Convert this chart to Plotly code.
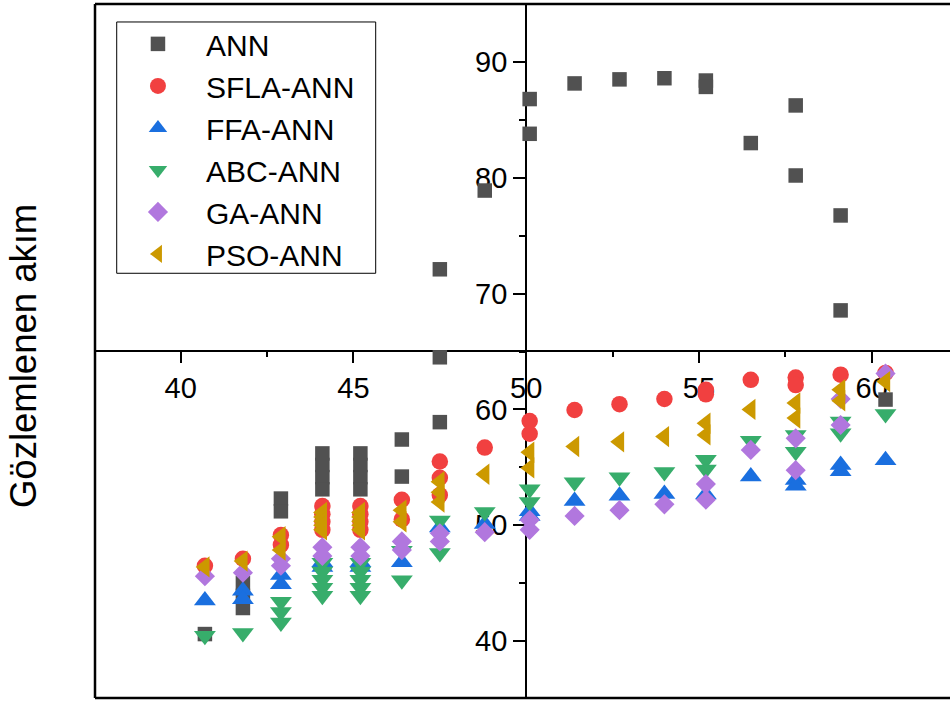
import plotly.graph_objects as go

# ---------------- data ----------------
ann_x = [40.7, 41.8, 41.8, 41.8, 42.9, 42.9,
         44.1, 44.1, 44.1, 44.1, 45.2, 45.2, 45.2, 45.2,
         46.4, 46.4, 47.5, 47.5, 47.5, 48.8, 50.1, 50.1,
         51.4, 52.7, 54.0, 55.2, 55.2, 56.5, 57.8, 57.8,
         59.1, 59.1, 60.4]
ann_y = [40.6, 45.0, 43.9, 42.85, 52.3, 51.2,
         56.2, 55.2, 54.15, 53.1, 56.2, 55.2, 54.15, 53.1,
         57.4, 54.2, 72.1, 64.5, 58.9, 78.9, 86.8, 83.8,
         88.15, 88.5, 88.6, 88.4, 87.85, 83.0, 86.25, 80.2,
         76.75, 68.55, 60.85]

sfla_x = [40.7, 41.8, 42.9, 42.9,
          44.1, 44.1, 44.1, 44.1, 45.2, 45.2, 45.2, 45.2,
          46.4, 46.4, 47.5, 47.5, 47.5, 48.8, 50.1, 50.1,
          51.4, 52.7, 54.0, 55.2, 55.2, 56.5, 57.8, 57.8, 59.1, 60.4]
sfla_y = [46.5, 47.1, 49.15, 48.3,
          51.65, 50.95, 50.3, 49.6, 51.65, 50.95, 50.3, 49.6,
          52.2, 50.5, 55.5, 54.1, 52.6, 56.7, 59.0, 57.9,
          59.95, 60.45, 60.9, 61.7, 61.3, 62.55, 62.75, 62.1, 63.0, 63.15]

ffa_x = [40.7, 41.8, 41.8, 42.9, 42.9,
         44.1, 44.1, 45.2, 45.2, 46.4, 47.5, 48.8, 50.1, 50.1,
         51.4, 52.7, 54.0, 55.2, 56.5, 57.8, 57.8, 59.1, 59.1, 60.4]
ffa_y = [43.5, 44.35, 43.6, 45.7, 44.9,
         46.8, 46.4, 46.8, 46.4, 46.8, 49.8, 50.1, 51.2, 50.8,
         52.1, 52.55, 52.7, 52.65, 54.2, 53.9, 53.4, 55.2, 54.65, 55.6]

abc_x = [40.7, 41.8, 42.9, 42.9, 42.9,
         44.1, 44.1, 44.1, 44.1, 44.1, 45.2, 45.2, 45.2, 45.2, 45.2,
         46.4, 46.4, 47.5, 47.5, 48.8, 50.1, 50.1,
         51.4, 52.7, 54.0, 55.2, 55.2, 56.5, 57.8, 57.8, 59.1, 59.1, 60.4]
abc_y = [40.45, 40.7, 43.4, 42.5, 41.6,
         46.75, 46.0, 45.3, 44.6, 43.9, 46.75, 46.0, 45.3, 44.6, 43.9,
         47.8, 45.25, 50.4, 47.6, 51.15, 53.1, 52.0,
         53.7, 54.15, 54.6, 55.65, 54.8, 57.3, 57.8, 56.35, 58.95, 57.95, 59.6]

ga_x = [40.7, 41.8, 42.9, 42.9,
        44.1, 44.1, 45.2, 45.2, 46.4, 46.4, 47.5, 47.5, 48.8, 50.1, 50.1,
        51.4, 52.7, 54.0, 55.2, 55.2, 56.5, 57.8, 57.8, 59.1, 59.1, 60.4]
ga_y = [45.6, 45.9, 47.1, 46.5,
        48.1, 47.35, 48.1, 47.35, 48.6, 47.85, 49.3, 48.6, 49.4, 50.45, 49.6,
        50.8, 51.3, 51.8, 53.55, 52.2, 56.5, 57.5, 54.75, 60.9, 58.65, 63.1]

pso_x = [40.7, 41.8, 42.9, 42.9,
         44.1, 44.1, 44.1, 44.1, 44.1, 45.2, 45.2, 45.2, 45.2, 45.2,
         46.4, 46.4, 47.5, 47.5, 47.5, 48.8, 50.1, 50.1,
         51.4, 52.7, 54.0, 55.2, 55.2, 56.5, 57.8, 57.8, 59.1, 59.1, 60.4]
pso_y = [46.4, 46.9, 49.0, 47.85,
         51.1, 50.7, 50.35, 50.0, 49.6, 51.1, 50.7, 50.35, 50.0, 49.6,
         51.3, 50.3, 53.75, 52.85, 52.0, 54.4, 56.3, 54.95,
         56.8, 57.2, 57.65, 58.8, 57.8, 60.0, 60.55, 59.25, 61.7, 60.75, 62.4]

series_names = ["ANN", "SFLA-ANN", "FFA-ANN", "ABC-ANN", "GA-ANN", "PSO-ANN"]
x_ticks = [40, 45, 50, 55, 60]
y_ticks = [40, 50, 60, 70, 80, 90]
y_title = "Gözlemlenen akım"

# ---------------- styling ----------------
FONT = "Liberation Sans, Arial, sans-serif"
styles = [
    ("square", "#515151", 14.5),
    ("circle", "#F14040", 16.5),
    ("triangle-up", "#1A6FDF", 19),
    ("triangle-down", "#37AD6B", 19),
    ("diamond", "#B177DE", 15.5),
    ("triangle-left", "#CC9900", 18.5),
]
data = [(ann_x, ann_y), (sfla_x, sfla_y), (ffa_x, ffa_y),
        (abc_x, abc_y), (ga_x, ga_y), (pso_x, pso_y)]

fig = go.Figure()
for name, (xs, ys), (sym, col, size) in zip(series_names, data, styles):
    fig.add_trace(go.Scatter(
        x=xs, y=ys, mode="markers", name=name,
        marker=dict(symbol=sym, color=col, size=size, line=dict(width=0)),
    ))

axis_common = dict(
    showline=True, linecolor="black", linewidth=2,
    ticks="outside", tickcolor="black", tickwidth=2,
    showgrid=False, zeroline=False, anchor="free",
    tickfont=dict(family=FONT, size=29, color="black"),
    layer="below traces",
)

fig.update_layout(
    width=950, height=702,
    margin=dict(l=95, r=0, t=4, b=4),
    paper_bgcolor="white", plot_bgcolor="white",
    font=dict(family=FONT, color="black"),
    xaxis=dict(range=[37.519, 62.266], position=0.4993,
               tickvals=x_ticks, ticklen=11,
               minor=dict(dtick=2.5, tick0=0, ticklen=5, ticks="outside",
                          tickcolor="black", tickwidth=2),
               **axis_common),
    yaxis=dict(range=[35.078, 95.009], position=0.5043,
               tickvals=y_ticks, ticklen=12,
               minor=dict(dtick=5, tick0=0, ticklen=6, ticks="outside",
                          tickcolor="black", tickwidth=2),
               **axis_common),
    legend=dict(x=0.0175, y=0.9800, xanchor="left", yanchor="top",
                bgcolor="rgba(0,0,0,0)", borderwidth=0,
                itemwidth=86,
                font=dict(family=FONT, size=30, color="black")),
    showlegend=True,
)

# frame (top, left, bottom)
for x0, y0, x1, y1 in [(0, 1, 1, 1), (0, 0, 0, 1), (0, 0, 1, 0)]:
    fig.add_shape(type="line", xref="paper", yref="paper",
                  x0=x0, y0=y0, x1=x1, y1=y1,
                  line=dict(color="black", width=2.5))
# legend box
fig.add_shape(type="rect", xref="paper", yref="paper",
              x0=0.0254, x1=0.3283, y0=0.6120, y1=0.9741,
              line=dict(color="black", width=1), fillcolor="rgba(0,0,0,0)")

fig.add_annotation(text=y_title, xref="paper", yref="paper",
                   x=-0.083, y=0.4928, xanchor="center", yanchor="middle",
                   textangle=-90, showarrow=False,
                   font=dict(family=FONT, size=36.5, color="black"))

fig.write_html("out.html")
